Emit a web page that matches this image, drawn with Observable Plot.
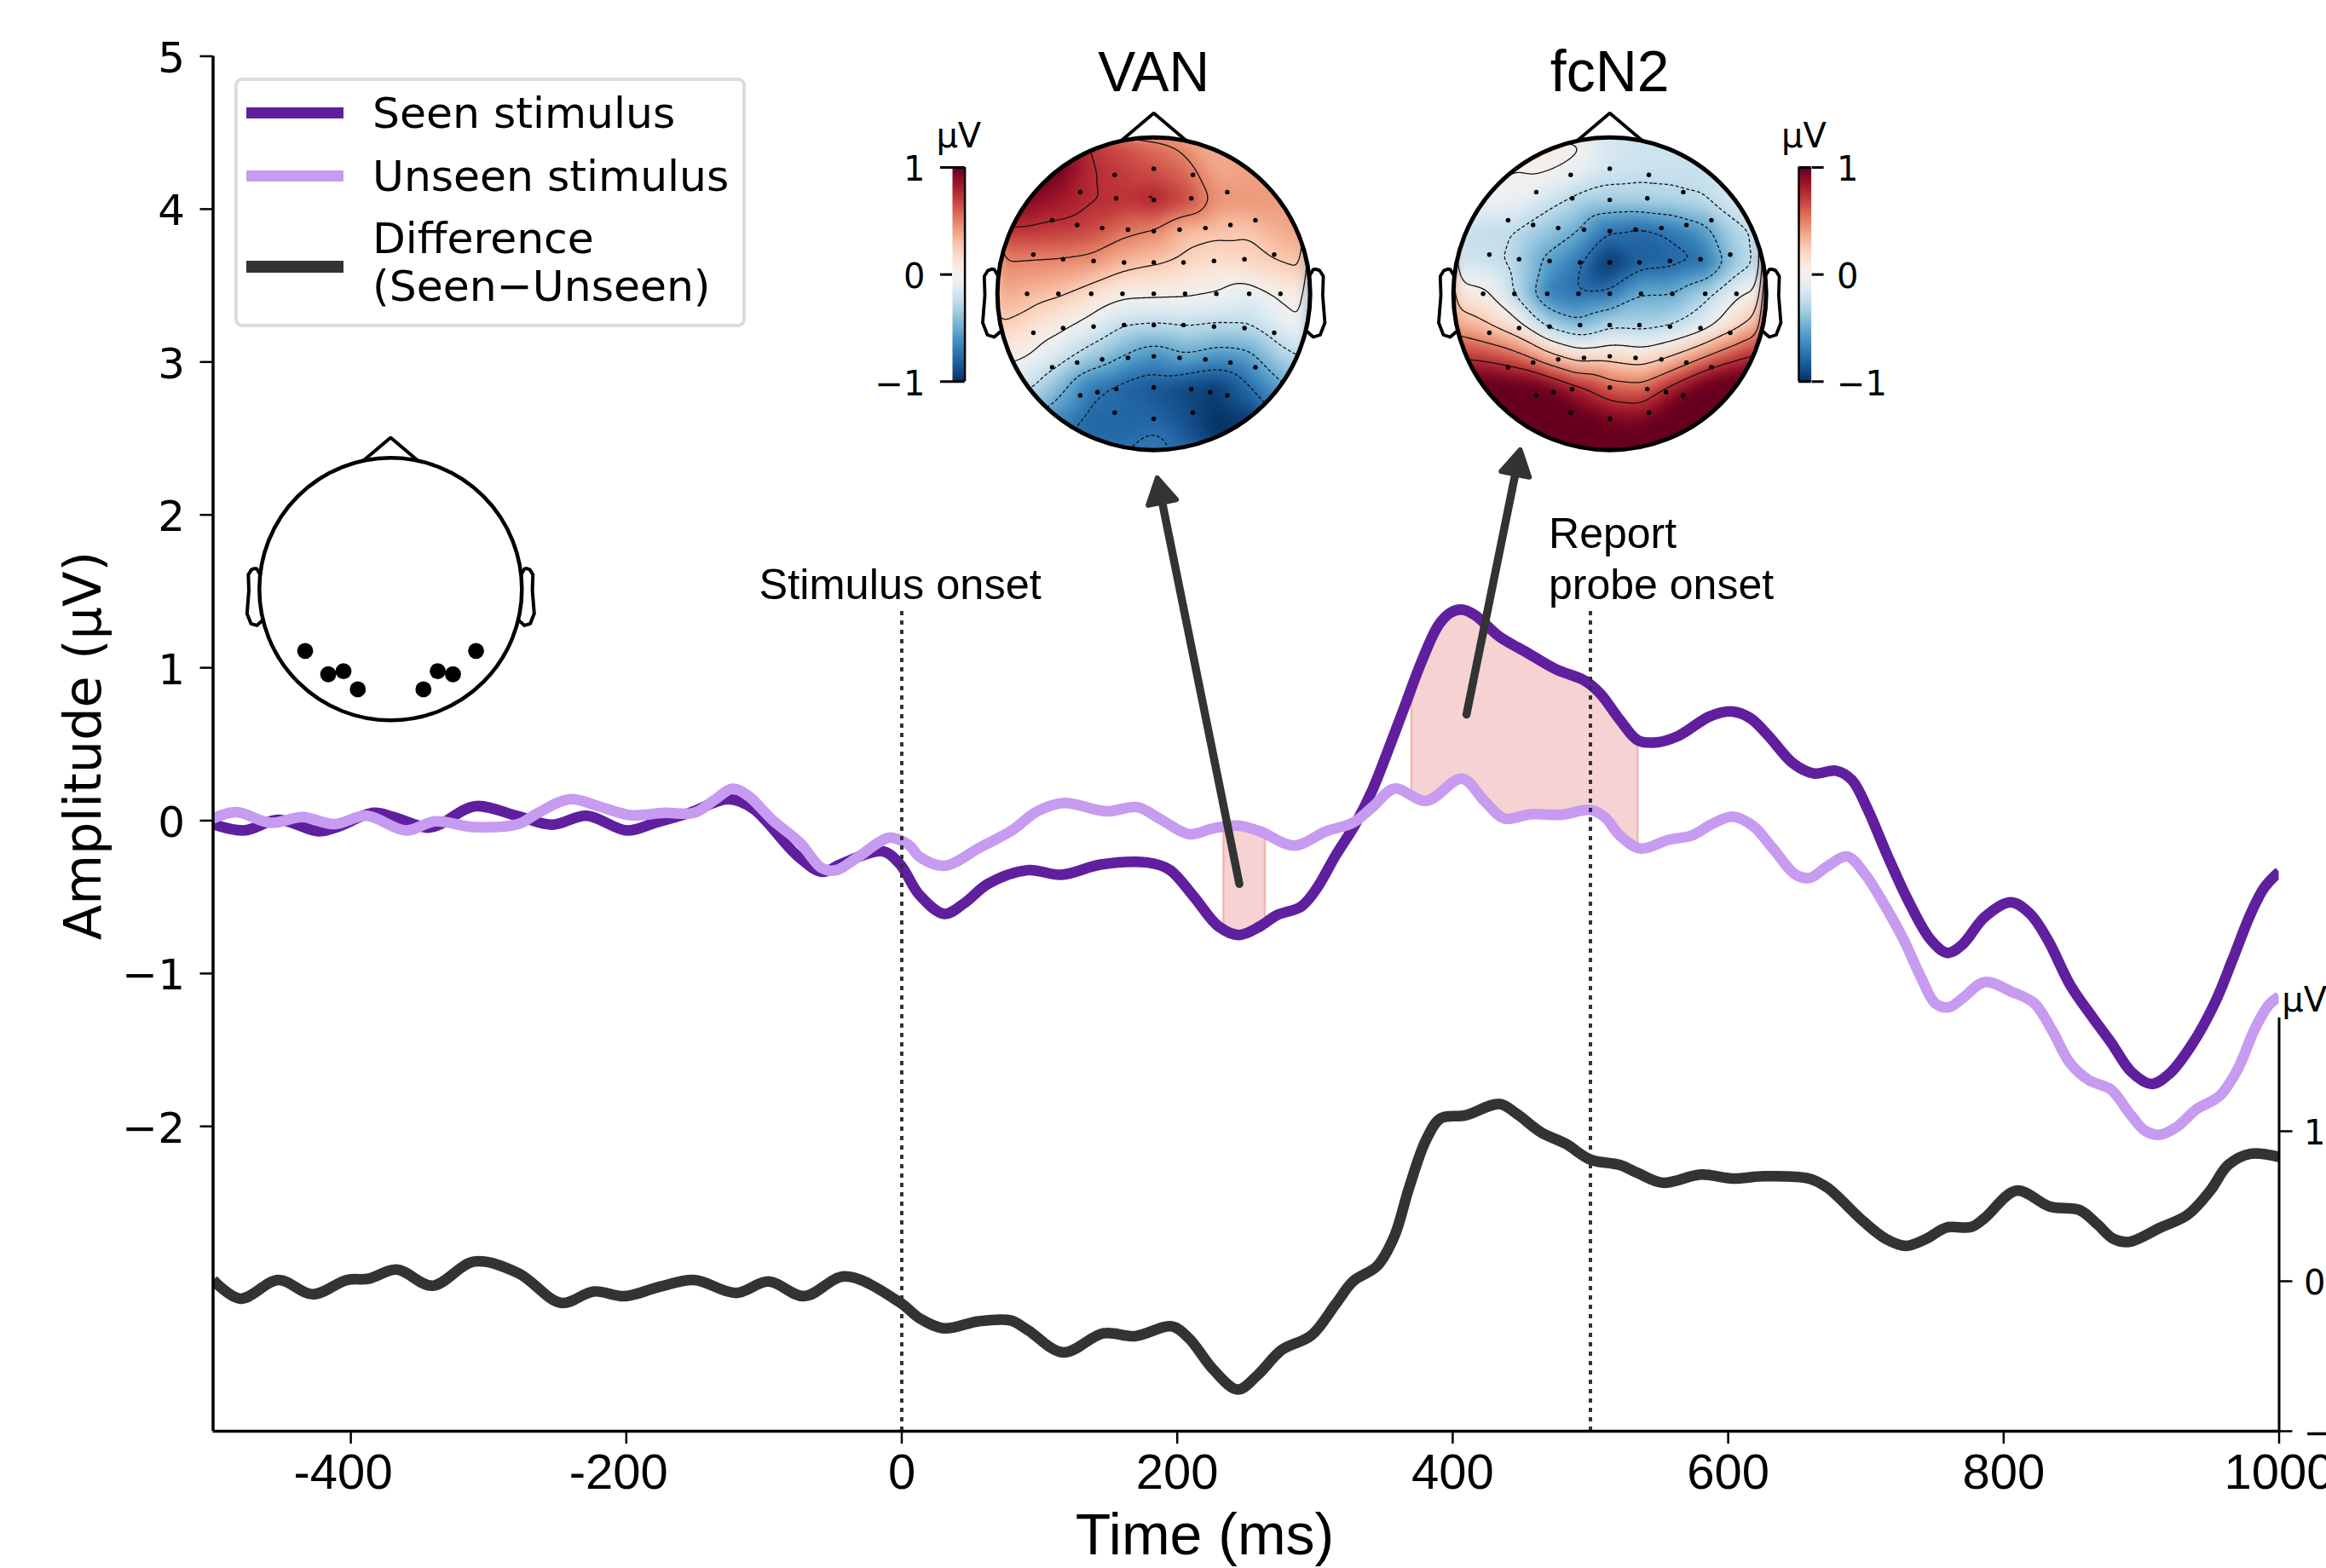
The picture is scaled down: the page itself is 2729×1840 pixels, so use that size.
<!DOCTYPE html>
<html>
<head>
<meta charset="utf-8">
<script src="https://cdn.jsdelivr.net/npm/d3@7"></script>
<script src="https://cdn.jsdelivr.net/npm/@observablehq/plot@0.6"></script>
<style>
html,body{margin:0;padding:0;background:#fff;}
#page{position:relative;width:2729px;height:1840px;overflow:hidden;background:#fff;}
#page svg{display:block;max-width:none;}
.over{position:absolute;pointer-events:none;}
.lg{position:absolute;font:50.4px/50px "DejaVu Sans";color:#000;white-space:pre;}
</style>
</head>
<body>
<div id="page"></div>
<script>
// ---------- curves: [time ms, amplitude µV] ----------
const seenCurve = [[-500,-.023],[-477.5,-.064],[-452.6,.005],[-423.5,-.07],[-410,-.042],[-383.4,.051],[-369,.023],[-344,-.046],[-335,-.023],[-310,.094],[-278.6,.029],[-253.7,-.027],[-228.8,.032],[-199.7,-.064],[-179,-.014],[-154,.051],[-126,.14],[-108,.079],[-76,-.228],[-57.6,-.335],[-44,-.283],[-14,-.2],[-1.5,-.283],[13,-.488],[31,-.61],[45,-.543],[62.8,-.413],[91.3,-.324],[116,-.354],[144.5,-.287],[178.3,-.274],[194.3,-.32],[212,-.497],[230,-.692],[245,-.748],[260,-.692],[272.4,-.618],[290,-.562],[300.8,-.45],[315,-.228],[329.3,-.023],[341.7,.2],[352.3,.441],[364.8,.739],[377.2,1.036],[389.6,1.278],[398.5,1.361],[407.4,1.38],[416.3,1.343],[434,1.203],[453.6,1.101],[475,.99],[496,.915],[507,.832],[521.3,.66],[534.4,.525],[547.5,.511],[563.8,.554],[586.7,.682],[603,.714],[616,.671],[629.3,.554],[647.3,.373],[662,.309],[678.4,.326],[689.8,.266],[701.3,.074],[714.4,-.203],[730.7,-.523],[747,-.779],[759.2,-.865],[770,-.811],[786.3,-.63],[805.3,-.534],[819,-.608],[832,-.779],[848.5,-1.078],[864.9,-1.291],[878,-1.451],[892.7,-1.643],[907.4,-1.722],[920.5,-1.654],[936.9,-1.462],[953.2,-1.195],[966.3,-.907],[979.4,-.608],[989.2,-.438],[1000,-.335]];
const unseenCurve = [[-500,.014],[-483,.055],[-458,-.014],[-435,.023],[-412,-.023],[-388.7,.032],[-360,-.064],[-339,-.005],[-310.5,-.042],[-278.6,-.023],[-264,.051],[-241,.14],[-218,.088],[-197,.036],[-172,.051],[-150.7,.051],[-136,.135],[-123,.209],[-111.6,.163],[-94,.005],[-74,-.144],[-58,-.311],[-47.7,-.324],[-33,-.246],[-8.6,-.112],[5.6,-.163],[13,-.237],[31,-.295],[55.7,-.181],[80.6,-.06],[98.4,.061],[118,.116],[148,.061],[171,.088],[187,.014],[208.5,-.088],[226,-.051],[244,-.032],[260,-.07],[285,-.163],[308,-.07],[327.5,-.014],[341.7,.088],[357.7,.209],[380.8,.129],[406.7,.274],[423.4,.125],[437.6,.014],[457,.042],[478.4,.038],[500,.07],[510.4,.023],[521.3,-.097],[536,-.182],[557.3,-.124],[573.7,-.097],[588.4,-.022],[603.1,.027],[617.8,-.033],[632.5,-.182],[648.9,-.353],[659.4,-.374],[671.8,-.3],[686.5,-.235],[699.6,-.353],[714.4,-.566],[727.4,-.779],[740.5,-1.035],[750.3,-1.195],[760.2,-1.221],[770,-1.163],[786.3,-1.056],[806,-1.12],[822.3,-1.195],[835.4,-1.376],[848.5,-1.59],[861.6,-1.696],[878,-1.76],[891,-1.91],[902.5,-2.027],[913,-2.055],[925.4,-2.006],[940,-1.888],[956.5,-1.803],[969.6,-1.632],[982.7,-1.355],[992.5,-1.206],[1000,-1.15]];
// difference is read on the small right-hand axis
const diffCurve = [[-500,.008],[-480.3,-.116],[-452.6,.008],[-427.8,-.087],[-402.9,.008],[-387,.017],[-366.7,.078],[-340.7,-.03],[-310.5,.131],[-278.6,.055],[-247.3,-.144],[-223.5,-.068],[-201.1,-.1],[-175.6,-.036],[-150.7,.008],[-120.5,-.078],[-96.7,-.002],[-70.8,-.1],[-41.3,.032],[-1.5,-.14],[13.1,-.248],[30.9,-.314],[55.7,-.267],[78.8,-.261],[91.3,-.324],[117.2,-.475],[146.3,-.347],[169.4,-.366],[196,-.301],[208.5,-.381],[226.2,-.589],[244,-.722],[258.2,-.627],[276,-.457],[297.3,-.362],[315,-.153],[327.5,-.002],[345.2,.102],[357.7,.301],[368.3,.623],[380.8,.945],[391.4,1.087],[409.2,1.106],[434,1.182],[446.5,1.116],[464.2,.992],[482,.917],[499.8,.812],[521.3,.775],[534.4,.721],[552.4,.657],[580.2,.711],[603.1,.685],[626,.7],[658.7,.685],[671.8,.625],[698,.4],[714.4,.283],[729.1,.236],[743.8,.283],[758.5,.358],[776.5,.362],[786.3,.422],[809.2,.604],[833.8,.497],[855,.475],[868.1,.379],[879.6,.283],[891,.262],[913.9,.358],[933.6,.443],[950,.604],[963,.775],[979.4,.85],[1000,.828]];

const xTicks = [-400,-200,0,200,400,600,800,1000];
const yTicks = [-2,-1,0,1,2,3,4,5];
const insetTicks = [-1,0,1];
const shadedWindows = [[233.6,263.6],[370,534.2]];
const onsetTimes = [0,500];
const legendItems = [["Seen stimulus","#5f1f9f"],["Unseen stimulus","#c69bf0"],["Difference\n(Seen\u2212Unseen)","#333333"]];
// arrows: tail time, tail amp, tip time, tip amp
const arrowList = [[245.1,-.414,185.2,2.255],[410,.694,449.3,2.439]];

// ---------- topographies: grid of µV, rows top to bottom, columns left to right ----------
const gridAxis = [-1,-.8,-.6,-.4,-.2,0,.2,.4,.6,.8,1];
const levels = [-.75,-.5,-.25,0,.25,.5,.75];
const vanGrid = [
 [.85,.85,.82,.72,.62,.52,.42,.36,.35,.35,.35],
 [1.05,1.05,.98,.76,.7,.64,.56,.38,.4,.4,.4],
 [.95,.92,.84,.76,.74,.8,.68,.46,.44,.42,.42],
 [.72,.72,.7,.66,.55,.49,.32,.28,.26,.36,.42],
 [.49,.48,.47,.44,.33,.27,.2,.16,.2,.25,.3],
 [.38,.33,.27,.16,.05,.04,.03,-.01,-.1,.03,.1],
 [.25,.17,.06,-.08,-.24,-.27,-.24,-.27,-.26,-.1,0],
 [.08,.0,-.17,-.35,-.5,-.62,-.52,-.6,-.56,-.33,-.2],
 [-.2,-.22,-.45,-.72,-.8,-.86,-.92,-.96,-.78,-.55,-.4],
 [-.6,-.6,-.65,-.8,-.8,-.8,-.88,-1,-.96,-.8,-.6],
 [-.75,-.75,-.75,-.75,-.75,-.68,-.8,-.96,-.96,-.9,-.85]];
const fcn2Grid = [
 [.1,.1,.1,.12,.05,-.15,-.2,-.2,-.2,-.2,-.2],
 [.05,.05,0,.02,-.05,-.18,-.2,-.2,-.22,-.2,-.1],
 [0,-.02,-.05,-.18,-.3,-.32,-.32,-.3,-.26,-.15,-.1],
 [-.2,-.24,-.25,-.38,-.5,-.75,-.8,-.72,-.58,-.3,-.2],
 [-.18,-.2,-.3,-.55,-.72,-1,-.82,-.8,-.75,-.38,-.18],
 [.1,.04,-.28,-.68,-.75,-.72,-.5,-.5,-.33,-.05,.1],
 [.4,.28,.08,-.3,-.45,-.3,-.32,-.26,-.1,.18,.42],
 [.72,.68,.58,.34,.14,.18,.12,.26,.48,.68,.8],
 [1.15,1.1,1.05,.98,.78,.6,.56,.8,1.05,1.15,1.15],
 [1.4,1.4,1.4,1.3,1.05,.95,.92,1.1,1.3,1.4,1.4],
 [1.3,1.3,1.3,1.25,1.2,1.1,1.15,1.2,1.3,1.3,1.3]];
const sensorsX = [0,-.25,.25,-.47,.47,-.24,.24,0,-.65,.65,-.49,.49,-.33,.33,-.165,.165,0,-.77,.77,-.58,.58,-.385,.385,-.19,.19,0,-.81,.81,-.61,.61,-.4,.4,-.2,.2,0,-.77,.77,-.58,.58,-.385,.385,-.19,.19,0,-.65,.65,-.49,.49,-.33,.33,-.165,.165,0,-.47,.47,-.36,.36,-.24,.24,0,-.25,.25,0];
const sensorsY = [.8,.76,.76,.65,.65,.61,.61,.6,.47,.47,.44,.44,.42,.42,.41,.41,.4,.25,.25,.22,.22,.21,.21,.2,.2,.2,0,0,0,0,0,0,0,0,0,-.25,-.25,-.22,-.22,-.21,-.21,-.2,-.2,-.2,-.47,-.47,-.44,-.44,-.42,-.42,-.41,-.41,-.4,-.65,-.65,-.63,-.63,-.61,-.61,-.6,-.76,-.76,-.8];
const montageX = [-.651,-.475,-.359,-.25,.25,.359,.475,.651];
const montageY = [-.471,-.649,-.625,-.764,-.764,-.625,-.649,-.471];
const noseX = [-.209,0,.209];
const noseY = [.978,1.155,.978];
const earX = [.994,1.02,1.036,1.06,1.084,1.08,1.094,1.064,1.02,.978];
const earY = [.111,.155,.157,.149,.111,-.011,-.186,-.263,-.277,-.24];

// ---------- layout of the main frame ----------
const W = 2729, H = 1840;
const mL = 249.5, mR = 55.5, mT = 65.5, mB = 161;
const yMin = -3.994, yMax = 5;
const pxPerMs = (W-mL-mR)/1500, pxPerUv = (H-mT-mB)/(yMax-yMin);
const insetScale = 176/pxPerUv, insetZero = -540.5/pxPerUv;
const toMain = d => insetZero + insetScale*d;
const insetTop = toMain(1.755);

const page = document.getElementById("page");
const interp = (curve,t) => {
  const i = d3.bisector(d=>d[0]).left(curve,t);
  if (i<=0) return curve[0][1];
  if (i>=curve.length) return curve[curve.length-1][1];
  const a=curve[i-1], b=curve[i];
  return a[1]+(b[1]-a[1])*(t-a[0])/(b[0]-a[0]);
};
const shade = shadedWindows.flatMap(([a,b],k)=>{
  const ts = d3.sort(new Set([a,b,...seenCurve.map(d=>d[0]),...unseenCurve.map(d=>d[0])].filter(t=>t>=a&&t<=b)));
  return ts.map(t=>({k,t,lo:interp(unseenCurve,t),hi:interp(seenCurve,t)}));
});
const shadeEdges = shadedWindows.flat().map(t=>({t,lo:interp(unseenCurve,t),hi:interp(seenCurve,t)}));
const heads = arrowList.map(([x1,y1,x2,y2])=>{
  const dx=(x1-x2)*pxPerMs, dy=(y1-y2)*pxPerUv, L=Math.hypot(dx,dy), back=22;
  return {x1,y1,x:x2+back*dx/L/pxPerMs,y:y2+back*dy/L/pxPerUv,angle:Math.atan2(-dx,-dy)*180/Math.PI};
});
const sans = "Liberation Sans", dv = "DejaVu Sans";
const minus = v => String(v).replace("-","\u2212");
const curveLine = (data,stroke,f=d=>d[1]) => Plot.line(data,{x:d=>d[0],y:f,stroke,strokeWidth:12.5,curve:"catmull-rom",clip:"frame",strokeLinejoin:"round",strokeLinecap:"butt"});

const main = Plot.plot({
  width:W,height:H,marginLeft:mL,marginRight:mR,marginTop:mT,marginBottom:mB,
  style:{background:"transparent",overflow:"hidden"},
  x:{domain:[-500,1000]},y:{domain:[yMin,yMax]},
  marks:[
    Plot.areaY(shade,{x:"t",y1:"lo",y2:"hi",z:"k",fill:"#f6d3d2"}),
    Plot.ruleX(shadeEdges,{x:"t",y1:"lo",y2:"hi",stroke:"#f1b5b3",strokeWidth:2.5}),
    curveLine(seenCurve,"#5f1f9f"),
    curveLine(unseenCurve,"#c69bf0"),
    curveLine(diffCurve,"#333333",d=>toMain(d[1])),
    Plot.ruleX(onsetTimes,{y1:yMin,y2:1.402,stroke:"#333",strokeWidth:4,strokeDasharray:"5 6"}),
    Plot.ruleX([-500],{y1:yMin,y2:yMax,stroke:"#000",strokeWidth:3.5}),
    Plot.ruleY([yMin],{x1:-500,x2:1000,stroke:"#000",strokeWidth:3.5}),
    Plot.ruleX([1000],{y1:yMin,y2:insetTop,stroke:"#000",strokeWidth:3}),
    Plot.axisX({ticks:xTicks,text:null,tickSize:15,label:null,strokeWidth:2.5}),
    Plot.axisX({ticks:xTicks.filter(t=>t>=0),tickSize:0,tickPadding:26,fontSize:58,fontFamily:sans,tickFormat:d=>String(d),label:null}),
    Plot.axisX({ticks:xTicks.filter(t=>t<0),tickSize:0,tickPadding:26,dx:-9,fontSize:58,fontFamily:sans,tickFormat:d=>String(d),label:null}),
    Plot.axisY({ticks:yTicks,text:null,tickSize:15,label:null,strokeWidth:2.5}),
    Plot.axisY({ticks:yTicks,tickSize:0,tickPadding:33,dy:3,fontSize:50,fontFamily:dv,tickFormat:minus,label:null}),
    Plot.axisY({anchor:"right",ticks:insetTicks.map(toMain),text:null,tickSize:15,label:null,strokeWidth:2.5}),
    Plot.axisY({anchor:"right",ticks:insetTicks.map(toMain),tickFormat:v=>minus(Math.round((v-insetZero)/insetScale)),tickSize:0,tickPadding:29,dy:3,fontSize:40,fontFamily:dv,label:null}),
    Plot.text(["\u00b5V"],{x:1002,y:-1.246,text:d=>d,textAnchor:"start",lineAnchor:"bottom",fontSize:40,fontFamily:dv}),
    Plot.text(["Amplitude (\u00b5V)"],{x:-581.4,y:.49,text:d=>d,rotate:-90,textAnchor:"middle",lineAnchor:"bottom",fontSize:60.5,fontFamily:dv}),
    Plot.text(["Time (ms)"],{x:220,y:-4.797,text:d=>d,textAnchor:"middle",lineAnchor:"bottom",fontSize:68,fontFamily:sans}),
    Plot.text(["Stimulus onset"],{x:-103.6,y:1.45,text:d=>d,textAnchor:"start",lineAnchor:"bottom",fontSize:50.5,fontFamily:sans}),
    Plot.text(["Report\nprobe onset"],{x:469.7,y:1.45,text:d=>d,textAnchor:"start",lineAnchor:"bottom",lineHeight:1.2,fontSize:50,fontFamily:sans}),
    Plot.link(heads,{x1:"x1",y1:"y1",x2:"x",y2:"y",stroke:"#333",strokeWidth:9.5,strokeLinecap:"round"}),
    Plot.dot(heads,{x:"x",y:"y",symbol:"triangle",r:12.5,rotate:"angle",fill:"#333",stroke:"#333",strokeWidth:6,strokeLinejoin:"round"})
  ]
});
page.appendChild(main);

// ---------- legend ----------
const legend = document.createElement("div");
legend.className="over";
legend.style.cssText="left:275px;top:91px;width:600px;height:293px;box-sizing:border-box;background:#fff;border:4px solid #dcdcdc;border-radius:9px;";
page.appendChild(legend);
const swatchTop=[132.4,206.3,313], baselines=[[150],[224],[297,353]];
legendItems.forEach(([label,color],i)=>{
  const s=document.createElement("div");
  s.className="over";
  s.style.cssText=`left:289px;top:${swatchTop[i]-6.7}px;width:113.5px;height:13.4px;background:${color}`;
  page.appendChild(s);
  label.split("\n").forEach((line,j)=>{
    const t=document.createElement("div");
    t.className="lg";
    t.style.left="437px";
    t.style.top=(baselines[i][j]-42.3)+"px";
    t.textContent=line;
    page.appendChild(t);
  });
});

// ---------- scalp helpers ----------
const place=(el,left,top)=>{el.classList.add("over");el.style.left=left+"px";el.style.top=top+"px";page.appendChild(el);};
const ear=side=>earX.map((x,i)=>[side*x,earY[i]]);
const headOutline=sw=>[
  Plot.line(noseX.map((x,i)=>[x,noseY[i]]),{x:d=>d[0],y:d=>d[1],stroke:"#000",strokeWidth:sw,strokeLinejoin:"miter"}),
  Plot.line(ear(1),{x:d=>d[0],y:d=>d[1],stroke:"#000",strokeWidth:sw}),
  Plot.line(ear(-1),{x:d=>d[0],y:d=>d[1],stroke:"#000",strokeWidth:sw})
];
const samplesOf=grid=>grid.flatMap((row,r)=>row.map((v,c)=>({x:gridAxis[c],y:-gridAxis[r],v})));
const colorOpts={type:"linear",scheme:"RdBu",reverse:true,domain:[-1,1],clamp:true};
const headExt=1.2;

function topo(name,grid,cx,cy,R){
  const size=2*headExt*R, samples=samplesOf(grid), top=100;
  const common={x:"x",y:"y",interpolate:"barycentric",blur:7,pixelSize:1,x1:-headExt,x2:headExt,y1:-headExt,y2:headExt};
  const p=Plot.plot({
    width:size,height:size+top,marginLeft:0,marginRight:0,marginBottom:0,marginTop:top,
    style:{background:"transparent"},
    x:{domain:[-headExt,headExt],axis:null},y:{domain:[-headExt,headExt],axis:null},color:colorOpts,
    marks:[
      Plot.raster(samples,{...common,fill:"v"}),
      Plot.contour(samples,{...common,value:"v",thresholds:levels.filter(l=>l>=0),stroke:"#111",strokeWidth:1.3,fill:"none"}),
      Plot.contour(samples,{...common,value:"v",thresholds:levels.filter(l=>l<0),stroke:"#111",strokeWidth:1.3,fill:"none",strokeDasharray:"4 2.5"}),
      Plot.dot(sensorsX.map((x,i)=>[x,sensorsY[i]]),{x:d=>d[0],y:d=>d[1],r:2.7,fill:"#000"}),
      Plot.dot([[0,0]],{x:d=>d[0],y:d=>d[1],r:R,stroke:"#000",fill:"none",strokeWidth:5}),
      ...headOutline(3.8),
      Plot.text([name],{x:0,y:headExt+17.6/R,text:d=>d,lineAnchor:"bottom",fontSize:name==="VAN"?66:68,fontFamily:sans})
    ]
  });
  const svg=d3.select(p), id="clip-"+name;
  svg.append("defs").append("clipPath").attr("id",id).append("circle").attr("cx",size/2).attr("cy",top+size/2).attr("r",R);
  svg.selectAll('g[aria-label="raster"],g[aria-label="contour"]').attr("clip-path",`url(#${id})`);
  place(p,cx-size/2,cy-size/2-top);
}
topo("VAN",vanGrid,1353.3,344.6,183.5);
topo("fcN2",fcn2Grid,1887.8,344.6,183.5);

function colorbar(side,barLeft){
  const bw=14.6,pad=side<0?125:12,padR=side<0?12:110,mV=40,hb=251.3;
  const p=Plot.plot({
    width:pad+bw+padR,height:hb+2*mV+40,marginLeft:pad,marginRight:padR,marginTop:mV+40,marginBottom:mV,
    style:{background:"transparent",overflow:"visible"},
    x:{domain:[0,1],axis:null},y:{domain:[-1,1]},color:colorOpts,
    marks:[
      Plot.raster({x1:0,x2:1,y1:-1,y2:1,fill:(x,y)=>y,pixelSize:1}),
      Plot.ruleX([side<0?1:0],{stroke:"#000",strokeWidth:2.5}),
      Plot.ruleY([-1,1],{stroke:"#000",strokeWidth:3}),
      Plot.axisY({anchor:side<0?"left":"right",ticks:insetTicks,text:null,tickSize:14,label:null,strokeWidth:3}),
      Plot.axisY({anchor:side<0?"left":"right",ticks:insetTicks,tickSize:0,tickPadding:side<0?32:30,dy:3,tickFormat:minus,fontSize:40,fontFamily:dv,label:null}),
      Plot.text(["\u00b5V"],{x:side<0?.5:.4,y:1.0+(195.7-172)/125.65,text:d=>d,lineAnchor:"bottom",fontSize:40,fontFamily:dv})
    ]
  });
  place(p,barLeft-pad,195.7-mV-40);
}
colorbar(-1,1117);
colorbar(1,2110);

// ---------- electrode montage ----------
(function(){
  const R=154,size=2*headExt*R;
  const p=Plot.plot({
    width:size,height:size,margin:0,style:{background:"transparent"},
    x:{domain:[-headExt,headExt],axis:null},y:{domain:[-headExt,headExt],axis:null},
    marks:[
      Plot.dot([[0,0]],{x:d=>d[0],y:d=>d[1],r:R,stroke:"#000",fill:"none",strokeWidth:4.5}),
      ...headOutline(4),
      Plot.dot(montageX.map((x,i)=>[x,montageY[i]]),{x:d=>d[0],y:d=>d[1],r:9.4,fill:"#000"})
    ]
  });
  place(p,458-size/2,691-size/2);
})();
</script>
</body>
</html>
